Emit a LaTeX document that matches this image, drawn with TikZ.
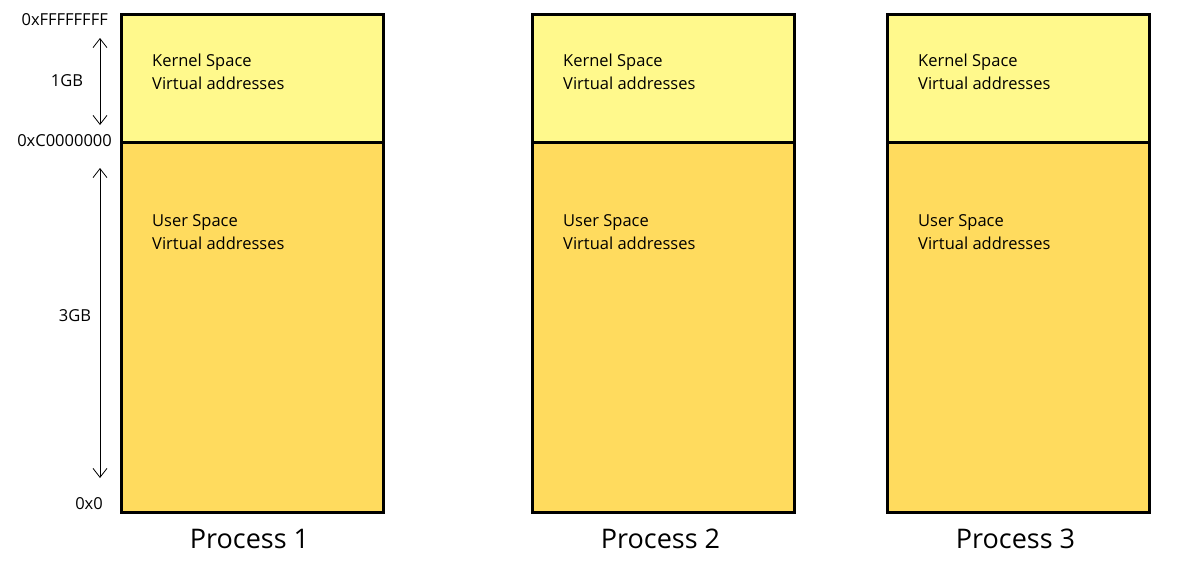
\documentclass[tikz,border=0pt]{standalone}
\usepackage{fontspec}
\setmainfont{Open Sans}
\usetikzlibrary{arrows.meta,calc,positioning}

\definecolor{kernelfill}{HTML}{FFF98C}
\definecolor{userfill}{HTML}{FFDB5E}

\begin{document}
\begin{tikzpicture}[
  x=1pt,
  y=-1pt,
  font=\fontsize{16.5}{22.5}\selectfont,
  >={Straight Barb[length=9pt,width=14pt]},
  kernel/.style={draw, line width=3pt, fill=kernelfill, minimum width=262pt, minimum height=128pt, inner sep=0pt},
  user/.style={draw, line width=3pt, fill=userfill, minimum width=262pt, minimum height=370pt, inner sep=0pt},
  inlabel/.style={anchor=west, align=left, inner sep=0pt},
  addr/.style={anchor=east, inner sep=0pt},
  proc/.style={font=\fontsize{27}{30}\selectfont, inner sep=0pt},
  span/.style={<->, line width=0.8pt}
]
  \useasboundingbox (0,0) rectangle (1177,568);

  % three address spaces
  \foreach \i/\x in {1/120, 2/531, 3/886} {
    \node[user, anchor=north west] (user\i) at (\x,141) {};
    \node[kernel, anchor=north west] (kernel\i) at (\x,13) {};
    \node[inlabel] (ktext\i) at (\x+32,72) {Kernel Space\\Virtual addresses};
    \node[inlabel] (utext\i) at (\x+32,232) {User Space\\Virtual addresses};
    \node[proc] (proc\i) at ($(user\i.south)+(-3,25)$) {Process \i};
  }

  % addresses on the left
  \node[addr] (top) at (108,20) {0xFFFFFFFF};
  \node[addr] (mid) at (112,141) {0xC0000000};
  \node[addr] (low) at (103,504) {0x0};

  \coordinate (gbA) at (100,38);
  \coordinate (gbB) at (100,125);
  \coordinate (gbC) at (100,168);
  \coordinate (gbD) at (100,478);
  \draw[span] (gbA) -- (gbB);
  \draw[span] (gbC) -- (gbD);
  \node (one) at (67,81) {1GB};
  \node (three) at (75,316) {3GB};
\end{tikzpicture}
\end{document}
